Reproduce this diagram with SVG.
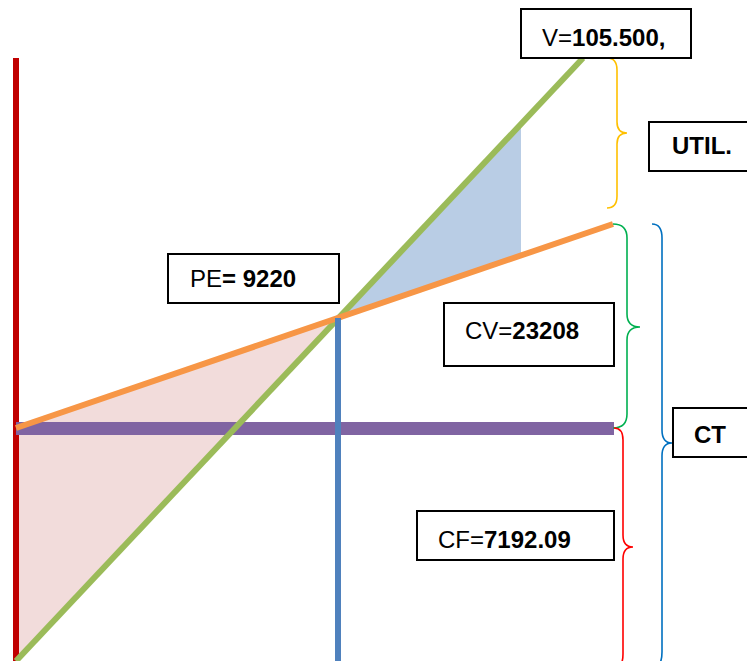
<svg xmlns="http://www.w3.org/2000/svg" width="747" height="661" viewBox="0 0 747 661">
<style>
.box{fill:#fff;stroke:#000;stroke-width:2}
.t{font-family:"Liberation Sans",Arial,sans-serif;font-size:24px;fill:#000}
.b{font-weight:bold}
.brace{fill:none;stroke-width:1.6}
</style>
<rect width="747" height="661" fill="#fff"/>
<g id="areas">
<polygon points="16,428 338,318 16,661" fill="#F2DCDB"/>
<polygon points="338,318 521,124 521,255.5" fill="#B9CDE5"/>
</g>
<g id="connectors">
<line x1="16" y1="58" x2="16" y2="661" stroke="#C00000" stroke-width="6"/>
<rect x="16" y="422" width="598" height="13" fill="#8064A2"/>
<line x1="16" y1="661" x2="583" y2="58" stroke="#9BBB59" stroke-width="6"/>
<line x1="16" y1="428" x2="613" y2="224" stroke="#F79646" stroke-width="6"/>
<line x1="338" y1="318" x2="338" y2="661" stroke="#4F81BD" stroke-width="6"/>
<path class="brace" stroke="#FFC000" d="M607,58 Q617,58 617,70 L617,122 Q617,133 627,133 Q617,133 617,144 L617,196 Q617,208 607,208"/>
<path class="brace" stroke="#00B050" d="M613,224 Q627,224 627,238 L627,314 Q627,327 640,327 Q627,327 627,340 L627,414 Q627,428 613,428"/>
<path class="brace" stroke="#FF0000" stroke-width="1.2" d="M614,428 Q623,428 623,440 L623,535 Q623,547 633,547 Q623,547 623,559 L623,654 Q623,668 614,668"/>
<path class="brace" stroke="#0070C0" d="M652,224 Q662,224 662,238 L662,430 Q662,443 672,443 Q662,443 662,456 L662,652 Q662,668 652,668"/>
</g>
<g id="node-v">
<rect class="box" x="521" y="9" width="170" height="49"/>
<text class="t" x="542" y="46">V=<tspan class="b">105.500,</tspan></text>
</g>
<g id="node-util">
<rect class="box" x="649" y="122" width="110" height="49"/>
<text class="t b" x="672" y="154">UTIL.</text>
</g>
<g id="node-pe">
<rect class="box" x="168" y="254" width="171" height="49"/>
<text class="t" x="190" y="287">PE<tspan class="b">= 9220</tspan></text>
</g>
<g id="node-cv">
<rect class="box" x="444" y="303" width="170" height="63"/>
<text class="t" x="465" y="339">CV=<tspan class="b">23208</tspan></text>
</g>
<g id="node-ct">
<rect class="box" x="673" y="408" width="90" height="49"/>
<text class="t b" x="694" y="443">CT</text>
</g>
<g id="node-cf">
<rect class="box" x="417" y="511" width="197" height="49"/>
<text class="t" x="438" y="548">CF=<tspan class="b">7192.09</tspan></text>
</g>
</svg>
